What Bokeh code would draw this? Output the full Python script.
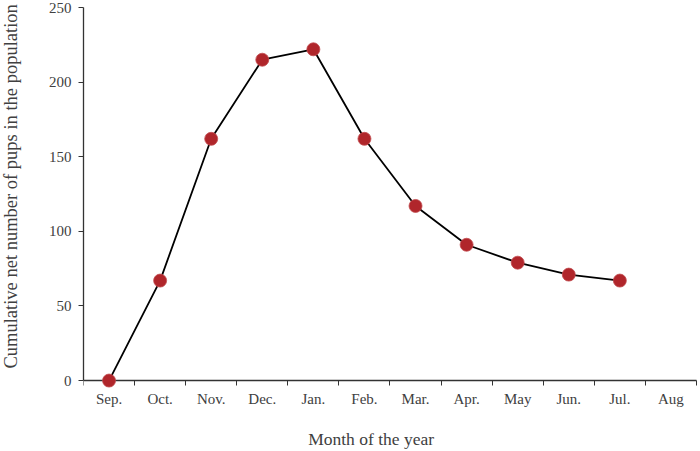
from bokeh.plotting import figure
from bokeh.models import Range1d, FixedTicker, ColumnDataSource, Label, Title
from bokeh.embed import file_html
from bokeh.resources import INLINE

months = ["Sep.", "Oct.", "Nov.", "Dec.", "Jan.", "Feb.", "Mar.", "Apr.", "May", "Jun.", "Jul.", "Aug"]
pups = [0, 67, 162, 215, 222, 162, 117, 91, 79, 71, 67]
y_ticks = [0, 50, 100, 150, 200, 250]
x_title = "Month of the year"
y_title = "Cumulative net number of pups in the population"

xs = [i + 0.5 for i in range(len(pups))]
src = ColumnDataSource(dict(x=xs, y=pups))

FONT = "Liberation Serif"
TXT = "#404040"

p = figure(width=698, height=449, output_backend="svg", toolbar_location=None,
           x_range=Range1d(0, len(months) + 0.02), y_range=Range1d(-46.2, 250),
           min_border_left=82, min_border_right=1, min_border_top=7, min_border_bottom=0)
p.outline_line_color = None
p.grid.visible = False

# x axis (drawn at y = 0)
xa = p.xaxis[0]
xa.fixed_location = 0
xa.bounds = (0, len(months))
xa.ticker = FixedTicker(ticks=[i + 0.5 for i in range(len(months))],
                        minor_ticks=list(range(len(months) + 1)))
xa.major_label_overrides = {i + 0.5: m for i, m in enumerate(months)}
xa.major_tick_line_color = None
xa.minor_tick_out = 5
xa.minor_tick_in = 0
xa.minor_tick_line_color = "#333333"
xa.axis_line_color = "#333333"
xa.axis_line_width = 1.3
xa.major_label_standoff = 4
xa.major_label_text_font = FONT
xa.major_label_text_font_size = "15px"
xa.major_label_text_color = TXT

ya = p.yaxis[0]
ya.bounds = (0, 250)
ya.ticker = FixedTicker(ticks=y_ticks, minor_ticks=[])
ya.major_tick_out = 5
ya.major_tick_in = 0
ya.major_tick_line_color = "#333333"
ya.axis_line_color = "#333333"
ya.axis_line_width = 1.3
ya.major_label_standoff = 7
ya.major_label_text_font = FONT
ya.major_label_text_font_size = "15px"
ya.major_label_text_color = TXT
# spacer so the y title sits at the left edge
ya.axis_label = " "
ya.axis_label_text_font_size = "1px"
ya.axis_label_standoff = 19

p.add_layout(Label(x=5.63, y=-38.9, text=x_title, text_align="center", text_baseline="middle",
                   text_font=FONT, text_font_size="17.5px", text_color=TXT))
p.add_layout(Title(text=y_title, align="left", vertical_align="top", offset=81, standoff=0,
                   text_font=FONT, text_font_size="18.5px", text_font_style="normal",
                   text_color=TXT), "left")

p.line("x", "y", source=src, line_color="black", line_width=1.8, level="overlay")
p.scatter("x", "y", source=src, size=13, fill_color="#b0262b", line_color="#c24a4e",
          line_width=0.8, level="overlay")

open("out.html", "w").write(file_html(p, INLINE))
